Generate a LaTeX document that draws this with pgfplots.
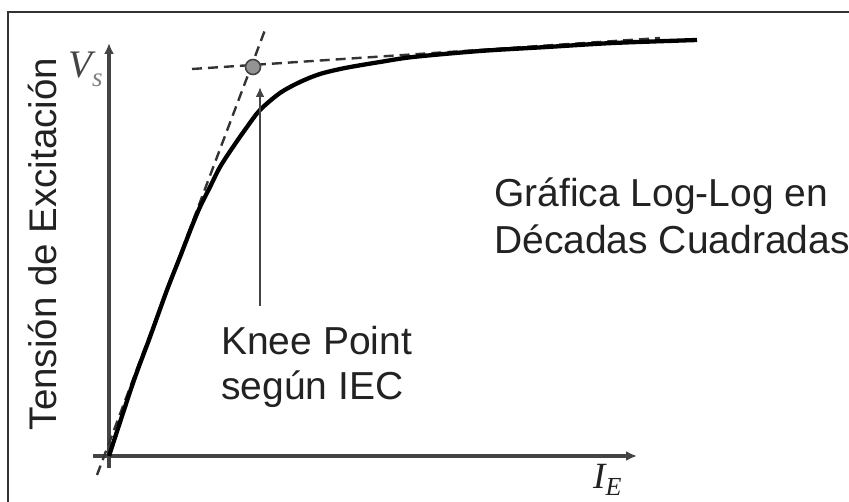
\documentclass[border=0pt]{standalone}
\usepackage{pgfplots}
\pgfplotsset{compat=1.18}
\usetikzlibrary{arrows.meta}
\usepackage{fontspec}
\setmainfont{Liberation Sans}
\newfontfamily\seriffont{Liberation Serif}
\definecolor{axgray}{HTML}{444444}
\definecolor{txt}{HTML}{222222}
\begin{document}
\begin{tikzpicture}
\begin{axis}[
  scale only axis, width=849pt, height=502pt,
  xmin=0, xmax=849, ymin=0, ymax=502, y dir=reverse,
  axis lines=none, clip=false,
]
% frame (top and left edges visible)
\addplot[draw=black!80, line width=2.2pt] coordinates {(8,502) (8,12) (849,12)};
% axes
\addplot[draw=axgray, line width=3.4pt, -{Latex[length=11pt,width=10pt]}] coordinates {(109,468) (109,43)};
\addplot[draw=axgray, line width=3.4pt, -{Latex[length=11pt,width=10pt]}] coordinates {(93,456) (637,456)};
% tangent dashed lines
\addplot[draw=black!80, line width=2.4pt, dash pattern=on 10pt off 6pt] coordinates {(97,475) (265,30)};
\addplot[draw=black!80, line width=2.4pt, dash pattern=on 10pt off 6pt] coordinates {(192,69) (660,38)};
% excitation curve
\addplot[draw=black, line width=4.3pt, smooth, tension=0.5] coordinates {
 (109,456) (133,383) (150,337) (167,290) (180,257) (192,226) (200,207) (210,187)
 (220,167) (233,147) (247,127) (260,110) (280,93) (300,82) (320,74) (345,68)
 (380,62) (413,57) (480,51) (547,47) (613,43) (697,40)};
% knee point marker
\addplot[only marks, mark=*, mark size=7.5pt, mark options={fill=gray!85, draw=axgray, line width=1.6pt}] coordinates {(253,67)};
% arrow to knee
\addplot[draw=axgray, line width=2.8pt, -{Latex[length=10pt,width=9pt]}] coordinates {(260,306) (260,87)};
% texts
\node[anchor=base, rotate=90, text=txt, font=\fontsize{38.5}{44}\selectfont] at (axis cs:56,244) {Tensión de Excitación};
\node[anchor=base west, inner sep=0pt, text=txt, align=left, font=\fontsize{39}{45}\selectfont] at (axis cs:221,400) {Knee Point\\según IEC};
\node[anchor=base west, inner sep=0pt, text=txt, align=left, font=\fontsize{39}{47}\selectfont] at (axis cs:494,254) {Gráfica Log-Log en\\Décadas Cuadradas};
\node[anchor=base west, inner sep=0pt, text=axgray, font=\seriffont\itshape\fontsize{39}{40}\selectfont] at (axis cs:68,78) {V\raisebox{-9pt}{\fontsize{27}{28}\selectfont\color{gray}s}};
\node[anchor=base west, inner sep=0pt, text=txt, font=\seriffont\itshape\fontsize{37}{40}\selectfont] at (axis cs:593,488) {I\raisebox{-8pt}{\fontsize{26}{28}\selectfont E}};
\end{axis}
\pgfresetboundingbox
\path (0,0) rectangle (849pt,502pt);
\end{tikzpicture}
\end{document}
